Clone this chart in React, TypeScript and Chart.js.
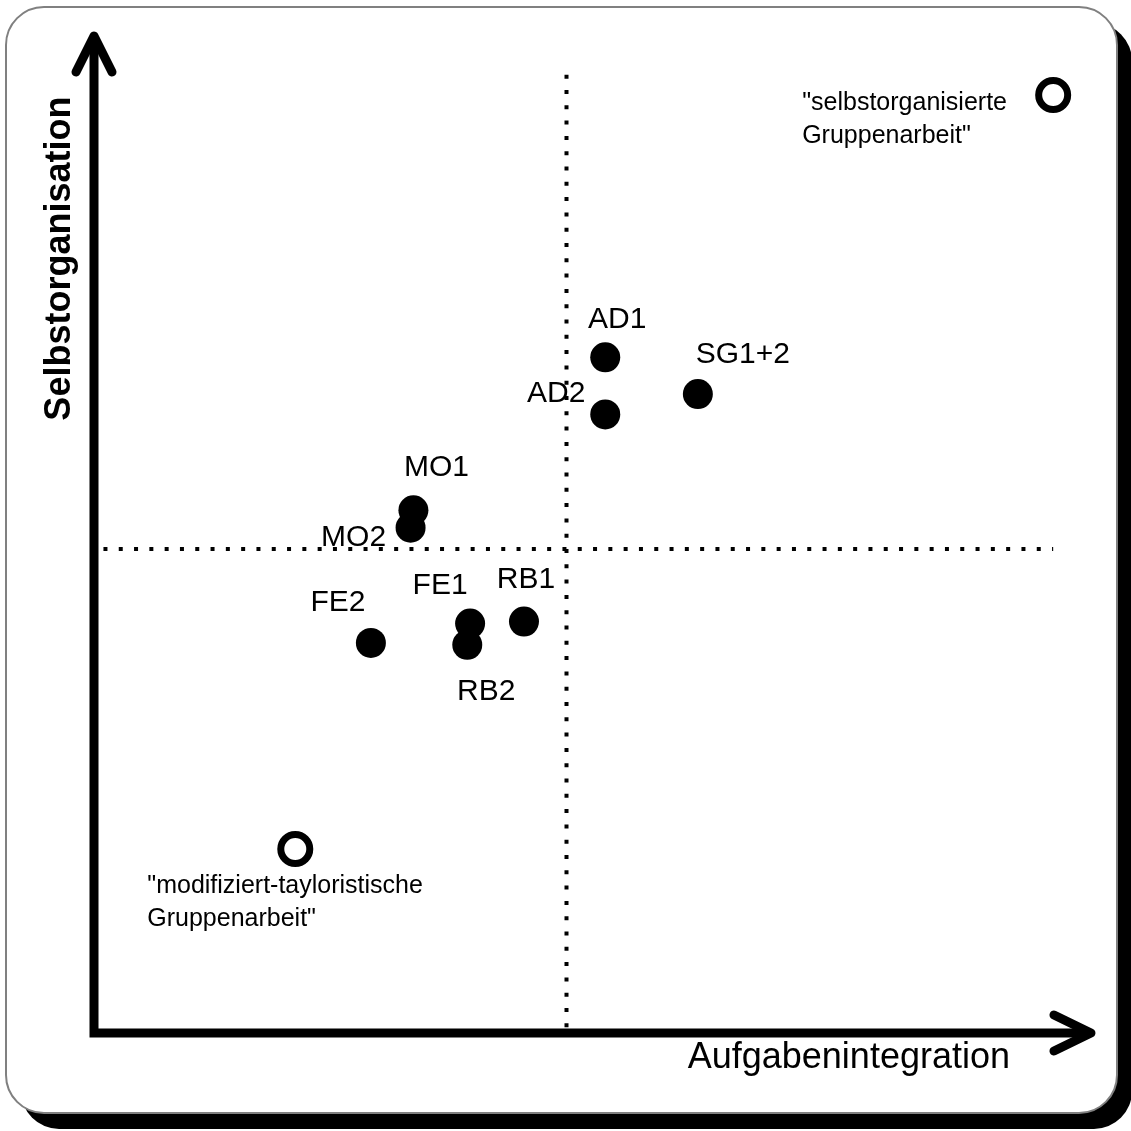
import { useEffect, useRef } from "react";
import { Chart, registerables } from "chart.js";

Chart.register(...registerables);

// ---- data ----
const groupNames = ["AD1", "AD2", "SG1+2", "MO1", "MO2", "FE2", "FE1", "RB2", "RB1"];
const groupX = [5.41, 5.41, 6.39, 3.38, 3.35, 2.93, 3.98, 3.95, 4.55];
const groupY = [6.98, 6.39, 6.6, 5.4, 5.22, 4.03, 4.23, 4.01, 4.25];

const idealNames = [
  ['"selbstorganisierte', 'Gruppenarbeit"'],
  ['"modifiziert-tayloristische', 'Gruppenarbeit"'],
];
const idealX = [10.15, 2.13];
const idealY = [9.69, 1.9];

const dividerX = 5;
const dividerY = 5;
const xAxisTitle = "Aufgabenintegration";
const yAxisTitle = "Selbstorganisation";
const axisMin = 0;
const xMax = 10;
const yMax = 10;
const xArrowEnd = 10.55;
const yArrowEnd = 10.3;

// ---- label placement (style) ----
const groupLabelOffsets: [number, number][] = [
  [12, -29],
  [-49, -12],
  [45, -31],
  [23, -34],
  [-57, 18],
  [-33, -32],
  [-30, -30],
  [19, 55],
  [2, -34],
];
const idealLabelOffsets: [number, number][] = [
  [-251, 15],
  [-148, 44],
];

const FONT = '"Liberation Sans", Arial, Helvetica, sans-serif';

function roundRect(ctx: CanvasRenderingContext2D, x: number, y: number, w: number, h: number, r: number) {
  ctx.beginPath();
  ctx.moveTo(x + r, y);
  ctx.lineTo(x + w - r, y);
  ctx.arcTo(x + w, y, x + w, y + r, r);
  ctx.lineTo(x + w, y + h - r);
  ctx.arcTo(x + w, y + h, x + w - r, y + h, r);
  ctx.lineTo(x + r, y + h);
  ctx.arcTo(x, y + h, x, y + h - r, r);
  ctx.lineTo(x, y + r);
  ctx.arcTo(x, y, x + r, y, r);
  ctx.closePath();
}

const framePlugin = {
  id: "frame",
  beforeDraw(chart: any) {
    const ctx: CanvasRenderingContext2D = chart.ctx;
    ctx.save();
    roundRect(ctx, 21, 23, 1111, 1106, 38);
    ctx.fillStyle = "#000";
    ctx.fill();
    roundRect(ctx, 6, 7, 1111, 1106, 38);
    ctx.fillStyle = "#fff";
    ctx.fill();
    ctx.strokeStyle = "#808080";
    ctx.lineWidth = 2;
    ctx.stroke();
    ctx.restore();
  },
};

const axesPlugin = {
  id: "axesAndLabels",
  afterDraw(chart: any) {
    const ctx: CanvasRenderingContext2D = chart.ctx;
    const xs = chart.scales.x;
    const ys = chart.scales.y;
    const ox = xs.getPixelForValue(axisMin);
    const oy = ys.getPixelForValue(axisMin);
    const tipX = xs.getPixelForValue(xArrowEnd);
    const tipY = ys.getPixelForValue(yArrowEnd);
    ctx.save();
    ctx.strokeStyle = "#000";
    ctx.lineWidth = 9;
    ctx.lineJoin = "miter";
    ctx.lineCap = "butt";
    ctx.beginPath();
    ctx.moveTo(ox, tipY);
    ctx.lineTo(ox, oy);
    ctx.lineTo(tipX, oy);
    ctx.stroke();
    // arrow heads
    ctx.lineCap = "round";
    ctx.lineJoin = "round";
    ctx.beginPath();
    ctx.moveTo(ox - 18, tipY + 36);
    ctx.lineTo(ox, tipY);
    ctx.lineTo(ox + 18, tipY + 36);
    ctx.stroke();
    ctx.beginPath();
    ctx.moveTo(tipX - 37, oy - 18);
    ctx.lineTo(tipX, oy);
    ctx.lineTo(tipX - 37, oy + 18);
    ctx.stroke();

    // axis titles
    ctx.fillStyle = "#000";
    ctx.font = `36px ${FONT}`;
    ctx.textAlign = "right";
    ctx.textBaseline = "alphabetic";
    ctx.fillText(xAxisTitle, tipX - 81, oy + 35);
    ctx.save();
    ctx.translate(ox - 24, ys.getPixelForValue(8) );
    ctx.rotate(-Math.PI / 2);
    ctx.font = `bold 36px ${FONT}`;
    ctx.textAlign = "center";
    ctx.fillText(yAxisTitle, 0, 0);
    ctx.restore();

    // group labels
    ctx.font = `30px ${FONT}`;
    ctx.textAlign = "center";
    groupNames.forEach((name, i) => {
      const px = xs.getPixelForValue(groupX[i]);
      const py = ys.getPixelForValue(groupY[i]);
      ctx.fillText(name, px + groupLabelOffsets[i][0], py + groupLabelOffsets[i][1]);
    });

    // ideal type labels
    ctx.font = `25px ${FONT}`;
    ctx.textAlign = "left";
    idealNames.forEach((lines, i) => {
      const px = xs.getPixelForValue(idealX[i]);
      const py = ys.getPixelForValue(idealY[i]);
      lines.forEach((line, j) => {
        ctx.fillText(line, px + idealLabelOffsets[i][0], py + idealLabelOffsets[i][1] + j * 32.5);
      });
    });
    ctx.restore();
  },
};

export default function App() {
  const ref = useRef<HTMLCanvasElement>(null);
  useEffect(() => {
    if (!ref.current) return;
    const dotted = {
      showLine: true,
      borderColor: "#000",
      borderWidth: 4,
      borderDash: [4, 11.3],
      borderCapStyle: "butt" as const,
      pointRadius: 0,
      clip: false as const,
    };
    const chart = new Chart(ref.current, {
      type: "scatter",
      data: {
        datasets: [
          {
            ...dotted,
            data: [
              { x: dividerX, y: 9.9 },
              { x: dividerX, y: 0.03 },
            ],
          },
          {
            ...dotted,
            data: [
              { x: 0.1, y: dividerY },
              { x: 10.15, y: dividerY },
            ],
          },
          {
            data: groupX.map((x, i) => ({ x, y: groupY[i] })),
            pointRadius: 15,
            pointBackgroundColor: "#000",
            pointBorderWidth: 0,
            pointBorderColor: "#000",
            clip: false as const,
          },
          {
            data: idealX.map((x, i) => ({ x, y: idealY[i] })),
            pointRadius: 14.5,
            pointBackgroundColor: "#fff",
            pointBorderColor: "#000",
            pointBorderWidth: 7,
            clip: false as const,
          },
        ],
      },
      options: {
        animation: false,
        responsive: false,
        devicePixelRatio: 1,
        events: [],
        layout: { padding: { left: 94, right: 92, top: 65, bottom: 98 } },
        plugins: {
          legend: { display: false },
          tooltip: { enabled: false },
          title: { display: false },
        },
        scales: {
          x: { type: "linear", min: axisMin, max: xMax, display: false },
          y: { type: "linear", min: axisMin, max: yMax, display: false },
        },
      },
      plugins: [framePlugin, axesPlugin],
    });
    return () => chart.destroy();
  }, []);
  return (
    <div style={{ position: "absolute", left: 0, top: 0, width: 1131, height: 1131 }}>
      <canvas ref={ref} width={1131} height={1131} style={{ display: "block", width: 1131, height: 1131 }} />
    </div>
  );
}
